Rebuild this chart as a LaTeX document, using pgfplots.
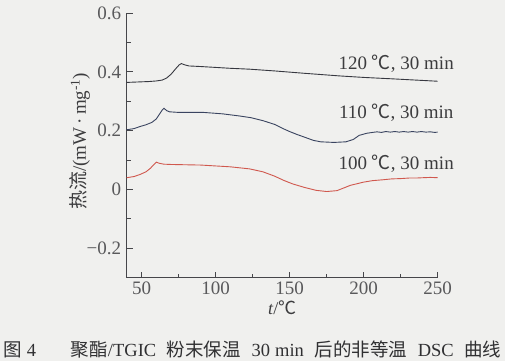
\documentclass[border=0pt]{standalone}
\usepackage{pgfplots}
\pgfplotsset{compat=1.18}
\usepackage{fontspec}
\setmainfont{Liberation Serif}
\newfontfamily\cjk{Noto Sans CJK SC}
\definecolor{bg}{RGB}{240,240,238}
\definecolor{txt}{RGB}{60,60,62}
\definecolor{axc}{RGB}{70,70,74}
\definecolor{c120}{RGB}{55,56,64}
\definecolor{c110}{RGB}{58,68,96}
\definecolor{c100}{RGB}{208,88,78}
\newcommand{\degC}{{\cjk ℃}}
\begin{document}
\begin{tikzpicture}
\path[use as bounding box, fill=bg] (-126.7pt,-83.3pt) rectangle (378.3pt,277.7pt);
\begin{axis}[
  scale only axis, width=311pt, height=264.7pt,
  at={(0,0)}, anchor=south west,
  xmin=40, xmax=250, ymin=-0.3, ymax=0.6,
  axis lines=left, axis line style={axc, line width=0.9pt, -},
  tick align=inside, major tick length=6pt, minor tick length=4pt,
  tick style={axc, line width=0.8pt},
  xtick={50,100,150,200,250}, minor x tick num=1,
  ytick={-0.2,0,0.2,0.4,0.6}, yticklabels={−0.2,0,0.2,0.4,0.6}, minor y tick num=1,
  xticklabels={50,100,150,200,250},
  ticklabel style={font=\fontsize{19}{19}\selectfont, text=txt!85!white},
  /pgf/number format/assume math mode=true,
  xticklabel style={yshift=-1pt},
  yticklabel style={xshift=-2pt},
  clip=false,
]
\addplot[c120, line width=0.9pt] coordinates {
(40,0.364) (45,0.365) (50,0.366) (55,0.367) (60,0.369) (64,0.372) (67,0.379) (70,0.392) (73,0.410) (75.5,0.424) (77,0.428) (79,0.424) (82,0.420) (90,0.418) (100,0.415) (110,0.412) (123,0.409) (140,0.403) (160,0.395) (184,0.386) (200,0.381) (220,0.376) (235,0.372) (250,0.368)
};
\addplot[c110, line width=0.9pt] coordinates {
(40,0.203) (45,0.207) (49,0.214) (53,0.220) (57,0.228) (60,0.240) (62,0.255) (64,0.270) (65.2,0.276) (67,0.268) (69,0.264) (75,0.262) (92,0.262) (105,0.257) (116,0.250) (124,0.244) (132,0.234) (140,0.221) (146,0.206) (150,0.197) (155,0.187) (160,0.178) (166,0.167) (171,0.162) (180,0.160) (188,0.162) (193,0.170) (197,0.184) (202,0.191) (206,0.194) (209,0.196) (212,0.194) (215,0.197) (218,0.195) (221,0.197) (224,0.195) (227,0.197) (230,0.195) (233,0.197) (236,0.195) (239,0.197) (242,0.195) (245,0.196) (248,0.194) (250,0.195)
};
\addplot[c100, line width=0.9pt] coordinates {
(40,0.040) (45,0.044) (49,0.051) (53,0.060) (56,0.072) (58,0.083) (60,0.093) (62,0.089) (65,0.086) (70,0.085) (90,0.083) (110,0.077) (123,0.070) (132,0.060) (140,0.045) (146,0.031) (152,0.019) (160,0.007) (168,-0.003) (175,-0.007) (182,-0.004) (191,0.014) (200,0.025) (206,0.030) (213,0.033) (219,0.036) (225,0.037) (231,0.039) (236,0.039) (240,0.040) (245,0.041) (250,0.040)
};
\node[text=txt, font=\fontsize{19}{19}\selectfont] at (axis cs:222,0.427) {120 \degC, 30 min};
\node[text=txt, font=\fontsize{19}{19}\selectfont] at (axis cs:222,0.261) {110 \degC, 30 min};
\node[text=txt, font=\fontsize{19}{19}\selectfont] at (axis cs:222,0.088) {100 \degC, 30 min};
\node[text=txt, font=\fontsize{18}{18}\selectfont, inner sep=1pt] at ([yshift=-30pt]rel axis cs:0.5,0) {\textit{t}/\degC};
\node[text=txt, font=\fontsize{19}{19}\selectfont, rotate=90] at ([xshift=-46.7pt, yshift=4pt]rel axis cs:0,0.5) {{\cjk 热流}/(mW\,·\,mg\textsuperscript{-1})};
\node[text=txt!80!black, font=\fontsize{18.5}{18.5}\selectfont, inner sep=0pt] at ([yshift=-72.3pt]rel axis cs:0.4045,0) {\makebox[498pt][s]{{\cjk 图}\kern5pt 4\hspace{1.3em} {\cjk 聚酯}/TGIC {\cjk 粉末保温} 30\kern5pt min {\cjk 后的非等温} DSC {\cjk 曲线}}};
\end{axis}
\end{tikzpicture}
\end{document}
